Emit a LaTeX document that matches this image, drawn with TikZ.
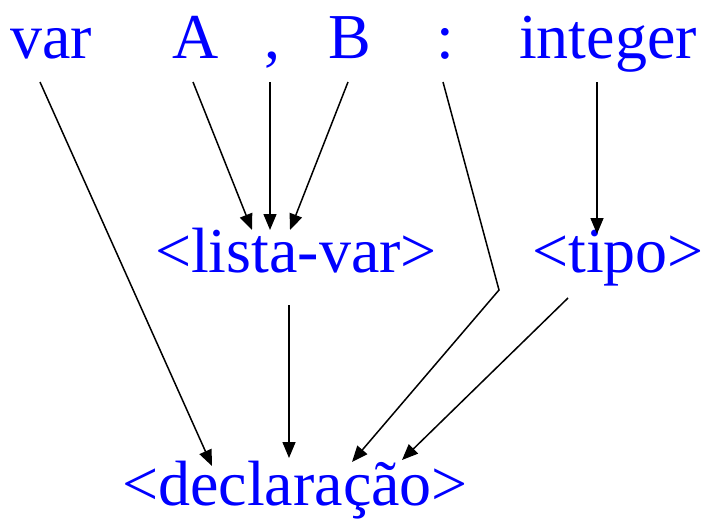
\documentclass[tikz,border=0pt]{standalone}
\usepackage{fontspec}
\setmainfont{Liberation Serif}
\usetikzlibrary{arrows.meta}
\begin{document}
\begin{tikzpicture}[x=1pt,y=-1pt,
  word/.style={text=blue,font=\fontsize{64}{64}\selectfont,inner sep=0pt,anchor=base},
  link/.style={line width=1.5pt,-{Triangle[length=16pt,width=13pt]}},
  plain/.style={line width=1.5pt}]
\useasboundingbox (0,0) rectangle (704,525);
\node[word] (var) at (51,58) {var};
\node[word] (A) at (196,58) {A};
\node[word] (comma) at (272,58) {,};
\node[word] (B) at (350,58) {B};
\node[word] (colon) at (445,58) {:};
\node[word] (int) at (608,58) {integer};
\node[word] (lista) at (296,272) {<lista-var>};
\node[word] (tipo) at (618,272) {<tipo>};
\node[word] (decl) at (295,505) {<declaração>};
\coordinate (v1) at (40,82);
\coordinate (a1) at (193,82);
\coordinate (c1) at (270,82);
\coordinate (b1) at (348,82);
\coordinate (k1) at (443,82);
\coordinate (k2) at (499,290);
\coordinate (i1) at (597,82);
\coordinate (l1) at (289,305);
\coordinate (t1) at (568,298);
\coordinate (lA) at (252,230);
\coordinate (lC) at (270,230);
\coordinate (lB) at (290,230);
\coordinate (tI) at (597,234);
\coordinate (dV) at (212,466);
\coordinate (dL) at (289,458);
\coordinate (dK) at (352,462);
\coordinate (dT) at (402,460);
\draw[link] (v1) -- (dV);
\draw[link] (a1) -- (lA);
\draw[link] (c1) -- (lC);
\draw[link] (b1) -- (lB);
\draw[link] (k1) -- (k2) -- (dK);
\draw[link] (i1) -- (tI);
\draw[link] (l1) -- (dL);
\draw[link] (t1) -- (dT);
\end{tikzpicture}
\end{document}
